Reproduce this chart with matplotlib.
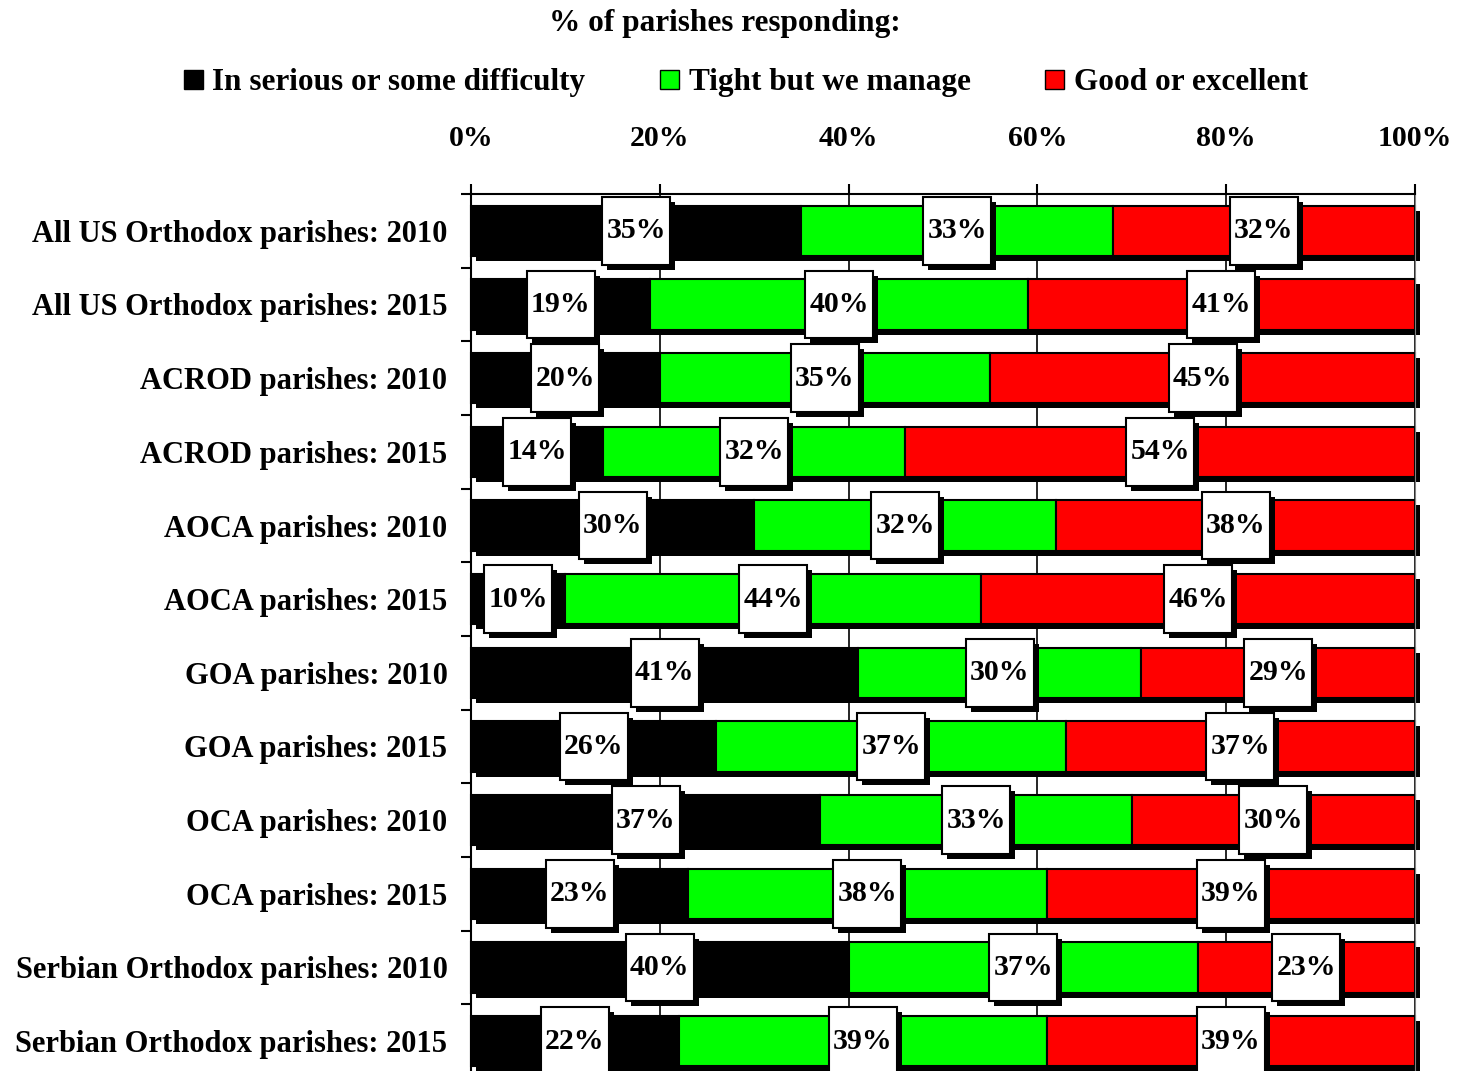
import matplotlib
matplotlib.use('Agg')
import matplotlib.pyplot as plt
import matplotlib.patheffects as pe
from matplotlib.patches import Patch, Rectangle

plt.rcParams['font.family'] = 'Liberation Serif'
plt.rcParams['font.weight'] = 'bold'

categories = [
    'All US Orthodox parishes: 2010', 'All US Orthodox parishes: 2015',
    'ACROD parishes: 2010', 'ACROD parishes: 2015',
    'AOCA parishes: 2010', 'AOCA parishes: 2015',
    'GOA parishes: 2010', 'GOA parishes: 2015',
    'OCA parishes: 2010', 'OCA parishes: 2015',
    'Serbian Orthodox parishes: 2010', 'Serbian Orthodox parishes: 2015',
]
difficulty = [35, 19, 20, 14, 30, 10, 41, 26, 37, 23, 40, 22]
tight = [33, 40, 35, 32, 32, 44, 30, 37, 33, 38, 37, 39]
good = [32, 41, 45, 54, 38, 46, 29, 37, 30, 39, 23, 39]

series_names = ['In serious or some difficulty', 'Tight but we manage', 'Good or excellent']
colors = ['#000000', '#00ff00', '#ff0000']
xticks = [0, 20, 40, 60, 80, 100]

fig = plt.figure(figsize=(14.67, 10.71), dpi=100)
ax = fig.add_axes([471 / 1467, -7 / 1071, 944 / 1467, 884 / 1071])

shadow = [pe.SimplePatchShadow(offset=(3.6, -3.6), shadow_rgbFace='black', alpha=1), pe.Normal()]

y = list(range(len(categories)))
left = [0] * len(categories)
for vals, col in zip([difficulty, tight, good], colors):
    bars = ax.barh(y, vals, left=left, height=0.68, color=col, edgecolor='black',
                   linewidth=1.5, zorder=2, path_effects=shadow)
    for b in bars:
        b.set_clip_on(False)
    for i, v in enumerate(vals):
        cx = left[i] + v / 2
        box = Rectangle((cx - 3.6, i - 0.46), 7.2, 0.92, facecolor='white',
                        edgecolor='black', linewidth=1.5, zorder=3, path_effects=shadow,
                        clip_on=False)
        ax.add_patch(box)
        ax.text(cx, i, f'{v}%', ha='center', va='center', fontsize=21.5, zorder=4)
    left = [l + v for l, v in zip(left, vals)]

ax.set_xlim(0, 100)
ax.set_ylim(len(categories) - 0.5, -0.5)

ax.xaxis.tick_top()
ax.set_xticks(xticks)
ax.set_xticklabels([f'{t}%' for t in xticks], fontsize=21.5)
ax.tick_params(axis='x', length=7, width=1.5, pad=23)
ax.grid(axis='x', color='black', linewidth=1.2, zorder=0)
ax.set_axisbelow(True)

ax.set_yticks(y)
ax.set_yticklabels(categories, fontsize=22)
ax.set_yticks([i - 0.5 for i in range(len(categories) + 1)], minor=True)
ax.tick_params(axis='y', which='major', length=0, pad=17)
ax.tick_params(axis='y', which='minor', length=7, width=1.5)

for s in ['top', 'left']:
    ax.spines[s].set_linewidth(1.5)
ax.spines['right'].set_color('gray')
ax.spines['bottom'].set_visible(False)

fig.text(725 / 1467, 1 - 24 / 1071, '% of parishes responding:', ha='center',
         va='center', fontsize=22.5)
handles = [Patch(facecolor=c, edgecolor='black') for c in colors]
fig.legend(handles, series_names, loc='center', bbox_to_anchor=(746 / 1467, 1 - 83 / 1071),
           ncol=3, frameon=False, fontsize=22.5, handlelength=0.6, handleheight=0.6,
           handletextpad=0.3, columnspacing=2.4)

fig.savefig('out.png', dpi=100)
